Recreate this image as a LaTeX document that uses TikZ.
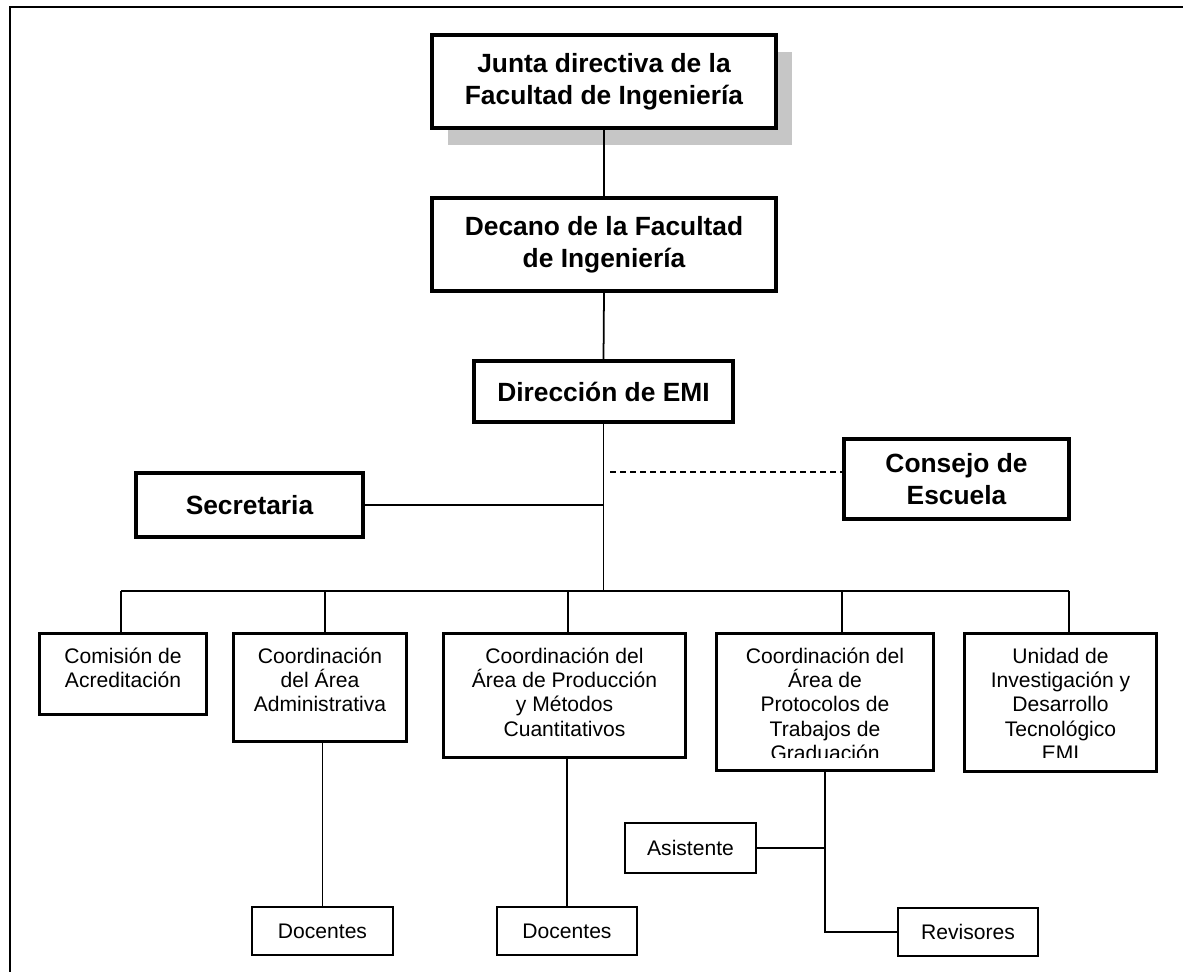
\documentclass[tikz,border=0pt]{standalone}
\usepackage{fontspec}
\setmainfont{Liberation Sans}
\usetikzlibrary{shadows}
% unit box whose text starts at a fixed depth below its top edge
\newcommand{\topalign}[3]{\parbox[c][#2][t]{#1}{\centering\rule{0pt}{17pt}#3}}
\begin{document}
\begin{tikzpicture}[x=0.02cm,y=-0.02cm,
  base/.style={draw, rectangle, fill=white, inner sep=0pt, align=center, text=black},
  headbox/.style={base, line width=2.4pt, font=\fontsize{15}{18}\selectfont\bfseries},
  unitbox/.style={base, line width=1.7pt, font=\fontsize{12}{13.8}\selectfont},
  staffbox/.style={base, line width=1.1pt, font=\fontsize{12}{13.8}\selectfont},
  link/.style={line width=1pt},
  dashlink/.style={line width=1pt, dash pattern=on 3.4pt off 2.3pt},
  frameline/.style={line width=1.1pt},
]
\useasboundingbox (0,0) rectangle (1183,972);
\fill[white] (0,0) rectangle (1183,972);

% page frame (top and left edges)
\draw[frameline] (1183,7) -- (10,7) -- (10,972);

% governing bodies
\node[headbox, minimum width=6.88cm, minimum height=1.86cm,
      drop shadow={shadow xshift=0.32cm, shadow yshift=-0.34cm, fill=gray!45, opacity=1}]
      (jun) at (604,81.5) {Junta directiva de la\\Facultad de Ingeniería};
\node[headbox, minimum width=6.88cm, minimum height=1.86cm]
      (dec) at (604,244.5) {Decano de la Facultad\\de Ingeniería};
\node[headbox, minimum width=5.18cm, minimum height=1.22cm]
      (dir) at (603.5,391.5) {Dirección de EMI};
\node[headbox, minimum width=4.54cm, minimum height=1.28cm]
      (sec) at (249.5,505) {Secretaria};
\node[headbox, minimum width=4.50cm, minimum height=1.60cm]
      (con) at (956.5,479) {Consejo de\\Escuela};

% coordinations and units
\node[unitbox] (com) at (123,674)
      {\topalign{3.34cm}{1.62cm}{Comisión de\\Acreditación}};
\node[unitbox] (adm) at (320,687.5)
      {\topalign{3.46cm}{2.16cm}{Coordinación\\del Área\\Administrativa}};
\node[unitbox] (pro) at (564.5,695.5)
      {\topalign{4.84cm}{2.48cm}{Coordinación del\\Área de Producción\\y Métodos\\Cuantitativos}};
\node[unitbox] (ptc) at (825,702)
      {\topalign{4.34cm}{2.74cm}{Coordinación del\\Área de\\Protocolos de\\Trabajos de\\Graduación}};
\node[unitbox] (uni) at (1060.5,702.5)
      {\topalign{3.84cm}{2.76cm}{Unidad de\\Investigación y\\Desarrollo\\Tecnológico\\EMI}};

% last text lines are cut off at the lower edge of these two boxes
\fill[white] (719.5,758.2) rectangle (930.5,768.3);
\fill[white] (967.5,758.2) rectangle (1153.5,769.3);

% staff
\node[staffbox, minimum width=2.82cm, minimum height=0.96cm] (doc1) at (322.5,931) {Docentes};
\node[staffbox, minimum width=2.80cm, minimum height=0.96cm] (doc2) at (567,931) {Docentes};
\node[staffbox, minimum width=2.62cm, minimum height=1.00cm] (asi) at (690.5,848) {Asistente};
\node[staffbox, minimum width=2.80cm, minimum height=0.96cm] (rev) at (968,932) {Revisores};

% hierarchy lines
\draw[link] (jun.south) -- (dec.north);
\draw[link] (dec.south) -- (dir.north);

\coordinate (busL) at (121,591);
\coordinate (busR) at (1069,591);
\coordinate (b2) at (325,591);
\coordinate (b3) at (568,591);
\coordinate (b4) at (842,591);
\coordinate (cj) at (610,472);

\draw[link] (dir.south) -- (dir.south |- busL);
\draw[link] (sec.east) -- (sec.east -| dir.south);
\draw[dashlink] (cj) -- (cj -| con.west);

\draw[link] (busL) -- (busR);
\draw[link] (busL) -- (busL |- com.north);
\draw[link] (b2) -- (b2 |- adm.north);
\draw[link] (b3) -- (b3 |- pro.north);
\draw[link] (b4) -- (b4 |- ptc.north);
\draw[link] (busR) -- (busR |- uni.north);

\draw[link] (doc1.north) -- (doc1.north |- adm.south);
\draw[link] (doc2.north) -- (doc2.north |- pro.south);
\draw[link] (ptc.south) |- (rev.west);
\draw[link] (asi.east) -- (asi.east -| ptc.south);
\end{tikzpicture}
\end{document}
